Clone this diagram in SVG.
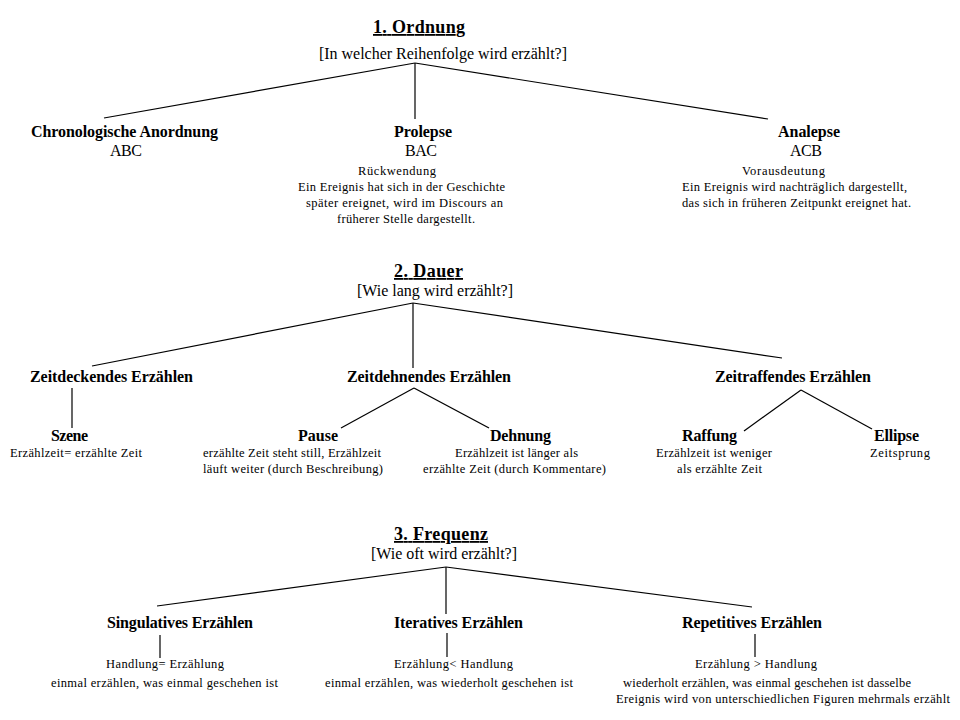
<svg xmlns="http://www.w3.org/2000/svg" width="960" height="720" viewBox="0 0 960 720">
<style>
text{font-family:"Liberation Serif","Times New Roman",serif;fill:#000;text-anchor:middle}
.h{font-size:18px;font-weight:bold;text-decoration:underline}
.b{font-size:16px;font-weight:bold}
.r{font-size:16px}
.s{font-size:12.5px}
#connectors line{stroke:#000;stroke-width:1.2;fill:none}
</style>
<rect width="960" height="720" fill="#fff"/>
<g id="connectors">
<line x1="415" y1="63" x2="104" y2="118"/>
<line x1="415" y1="63" x2="415" y2="119"/>
<line x1="415" y1="63" x2="768" y2="119"/>
<line x1="413" y1="303" x2="92" y2="366"/>
<line x1="413" y1="303" x2="413" y2="368"/>
<line x1="413" y1="303" x2="782" y2="358"/>
<line x1="72" y1="388" x2="72" y2="428"/>
<line x1="414" y1="388" x2="341" y2="428"/>
<line x1="414" y1="388" x2="489" y2="428"/>
<line x1="801" y1="390" x2="744" y2="431"/>
<line x1="801" y1="390" x2="872" y2="429"/>
<line x1="446" y1="567" x2="157" y2="606"/>
<line x1="446" y1="567" x2="446" y2="614"/>
<line x1="446" y1="567" x2="752" y2="607"/>
<line x1="160" y1="635" x2="160" y2="658"/>
<line x1="447" y1="633" x2="447" y2="657"/>
<line x1="755" y1="634" x2="755" y2="657"/>
</g>
<g id="ordnung">
<text class="h" x="419" y="33" textLength="92">1. Ordnung</text>
<text class="r" x="443" y="59" textLength="248">[In welcher Reihenfolge wird erzählt?]</text>
</g>
<g id="chronologisch">
<text class="b" x="124.5" y="137" textLength="187">Chronologische Anordnung</text>
<text class="r" x="126" y="156" textLength="32">ABC</text>
</g>
<g id="prolepse">
<text class="b" x="423" y="137" textLength="58">Prolepse</text>
<text class="r" x="421" y="156" textLength="32">BAC</text>
<text class="s" x="397" y="175" textLength="78">Rückwendung</text>
<text class="s" x="401.5" y="191" textLength="207">Ein Ereignis hat sich in der Geschichte</text>
<text class="s" x="404.5" y="207" textLength="197">später ereignet, wird im Discours an</text>
<text class="s" x="406" y="223" textLength="138">früherer Stelle dargestellt.</text>
</g>
<g id="analepse">
<text class="b" x="809" y="137" textLength="62">Analepse</text>
<text class="r" x="806" y="156" textLength="32">ACB</text>
<text class="s" x="783.5" y="175" textLength="83">Vorausdeutung</text>
<text class="s" x="794.5" y="191" textLength="225">Ein Ereignis wird nachträglich dargestellt,</text>
<text class="s" x="796.5" y="207" textLength="229">das sich in früheren Zeitpunkt ereignet hat.</text>
</g>
<g id="dauer">
<text class="h" x="428.5" y="277" textLength="69">2. Dauer</text>
<text class="r" x="435" y="295.5" textLength="156">[Wie lang wird erzählt?]</text>
</g>
<g id="zeitdeckend">
<text class="b" x="111.5" y="382" textLength="163">Zeitdeckendes Erzählen</text>
</g>
<g id="zeitdehnend">
<text class="b" x="429" y="382" textLength="164">Zeitdehnendes Erzählen</text>
</g>
<g id="zeitraffend">
<text class="b" x="793" y="382" textLength="156">Zeitraffendes Erzählen</text>
</g>
<g id="szene">
<text class="b" x="69.5" y="441" textLength="37">Szene</text>
<text class="s" x="76" y="457" textLength="132">Erzählzeit= erzählte Zeit</text>
</g>
<g id="pause">
<text class="b" x="318" y="441" textLength="40">Pause</text>
<text class="s" x="292" y="457" textLength="178">erzählte Zeit steht still,  Erzählzeit</text>
<text class="s" x="293" y="473" textLength="180">läuft weiter (durch Beschreibung)</text>
</g>
<g id="dehnung">
<text class="b" x="520.5" y="441" textLength="61">Dehnung</text>
<text class="s" x="516.5" y="457" textLength="123">Erzählzeit ist länger als</text>
<text class="s" x="514.5" y="473" textLength="183">erzählte Zeit (durch Kommentare)</text>
</g>
<g id="raffung">
<text class="b" x="709.5" y="441" textLength="55">Raffung</text>
<text class="s" x="714" y="457" textLength="116">Erzählzeit ist weniger</text>
<text class="s" x="719.5" y="473" textLength="85">als erzählte Zeit</text>
</g>
<g id="ellipse">
<text class="b" x="896.5" y="441" textLength="45">Ellipse</text>
<text class="s" x="900" y="457" textLength="60">Zeitsprung</text>
</g>
<g id="frequenz">
<text class="h" x="441" y="540" textLength="94">3. Frequenz</text>
<text class="r" x="444" y="559" textLength="146">[Wie oft wird erzählt?]</text>
</g>
<g id="singulativ">
<text class="b" x="180" y="628" textLength="146">Singulatives Erzählen</text>
<text class="s" x="165" y="668" textLength="118">Handlung= Erzählung</text>
<text class="s" x="164.5" y="687" textLength="227">einmal erzählen, was einmal geschehen ist</text>
</g>
<g id="iterativ">
<text class="b" x="458.5" y="628" textLength="129">Iteratives Erzählen</text>
<text class="s" x="453.5" y="668" textLength="119">Erzählung&lt; Handlung</text>
<text class="s" x="449" y="687" textLength="248">einmal erzählen, was wiederholt geschehen ist</text>
</g>
<g id="repetitiv">
<text class="b" x="752" y="628" textLength="140">Repetitives Erzählen</text>
<text class="s" x="756" y="668" textLength="122">Erzählung &gt; Handlung</text>
<text class="s" x="767" y="687" textLength="288">wiederholt erzählen, was einmal geschehen ist dasselbe</text>
<text class="s" x="783" y="703" textLength="334">Ereignis wird von unterschiedlichen Figuren mehrmals erzählt</text>
</g>
</svg>
